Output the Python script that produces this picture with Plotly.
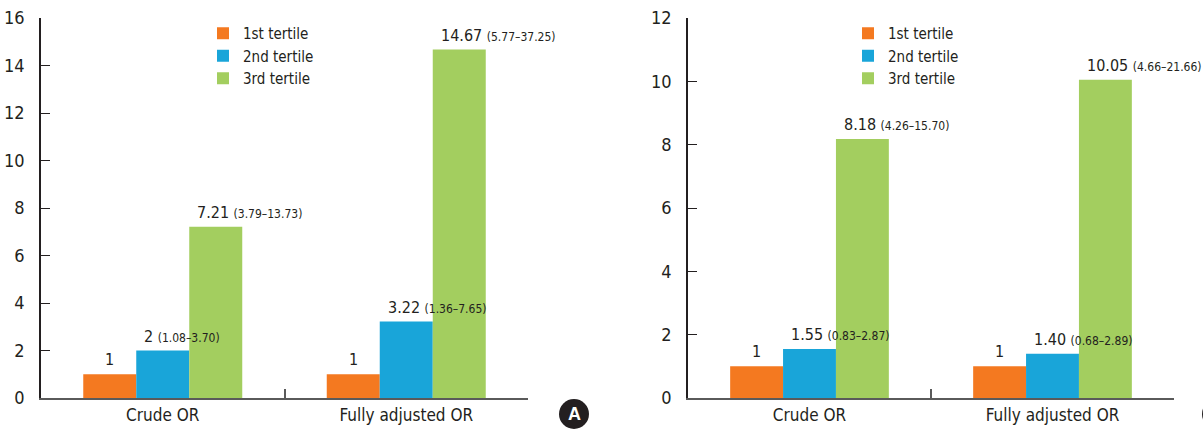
import plotly.graph_objects as go

categories = ["Crude OR", "Fully adjusted OR"]
tertiles = ["1st tertile", "2nd tertile", "3rd tertile"]

# Panel A
a_t1 = [1, 1]
a_t2 = [2, 3.22]
a_t3 = [7.21, 14.67]
a_t1_lbl = ["1", "1"]
a_t2_lbl = ["2", "3.22"]
a_t3_lbl = ["7.21", "14.67"]
a_t2_ci = ["1.08–3.70", "1.36–7.65"]
a_t3_ci = ["3.79–13.73", "5.77–37.25"]

# Panel B
b_t1 = [1, 1]
b_t2 = [1.55, 1.40]
b_t3 = [8.18, 10.05]
b_t1_lbl = ["1", "1"]
b_t2_lbl = ["1.55", "1.40"]
b_t3_lbl = ["8.18", "10.05"]
b_t2_ci = ["0.83–2.87", "0.68–2.89"]
b_t3_ci = ["4.26–15.70", "4.66–21.66"]

a_ticks = [0, 2, 4, 6, 8, 10, 12, 14, 16]
b_ticks = [0, 2, 4, 6, 8, 10, 12]

colors = ["#F47920", "#19A5D9", "#A3CE5F"]
FONT = "DejaVu Sans Condensed, Liberation Sans Narrow, Arial Narrow, sans-serif"
TXT = "#231f20"

W, H = 1203, 430
top_px, bot_px = 18, 398
domA = (41, 528)
domB = (688, 1174)
bargap = 0.347

fig = go.Figure()

panels = [
    ("x", "y", "legend", [a_t1, a_t2, a_t3], [a_t1_lbl, a_t2_lbl, a_t3_lbl], [None, a_t2_ci, a_t3_ci], domA),
    ("x2", "y2", "legend2", [b_t1, b_t2, b_t3], [b_t1_lbl, b_t2_lbl, b_t3_lbl], [None, b_t2_ci, b_t3_ci], domB),
]

annotations = []
for xa, ya, lg, series, labels, cis, dom in panels:
    cat_px = (dom[1] - dom[0]) / len(categories)
    bar_px = cat_px * (1 - bargap) / 3
    for i, (name, vals) in enumerate(zip(tertiles, series)):
        fig.add_trace(go.Bar(
            x=categories, y=vals, name=name, xaxis=xa, yaxis=ya,
            marker=dict(color=colors[i], line=dict(width=0)),
            legend=lg, hoverinfo="skip",
        ))
        for j, cat in enumerate(categories):
            lbl = labels[i][j]
            if cis[i] is None:
                text = lbl
                xanchor = "center"
                xshift = (i - 1) * bar_px
            else:
                text = f"{lbl} <span style='font-size:12px'>({cis[i][j]})</span>"
                xanchor = "left"
                xshift = (i - 1) * bar_px - bar_px / 2 + 6
            annotations.append(dict(
                x=cat, y=series[i][j], xref=xa, yref=ya, text=text,
                showarrow=False, xanchor=xanchor, yanchor="bottom",
                xshift=xshift, yshift=3,
                font=dict(family=FONT, size=16, color=TXT),
            ))

ph = bot_px - top_px

def py(p):
    return (bot_px - p) / ph

def pxf(p):
    return p / W

common = dict(showgrid=False, zeroline=False, showline=True, ticks="inside", ticklen=9,
              automargin=False)
xcommon = dict(common, tickson="boundaries", type="category", range=[-0.5, 1.5],
               linecolor="#5a5a5a", linewidth=2, tickcolor="#5a5a5a", tickwidth=1.5,
               ticklabelstandoff=1, tickfont=dict(family=FONT, size=17, color=TXT))
ycommon = dict(common, linecolor="#231f20", linewidth=1.5, tickcolor="#231f20", tickwidth=1,
               ticklabelstandoff=11, tickfont=dict(family=FONT, size=18, color=TXT))

legend_common = dict(xanchor="left", yanchor="top", bgcolor="rgba(0,0,0,0)",
                     font=dict(family=FONT, size=15, color=TXT), tracegroupgap=0,
                     itemclick=False)

fig.update_layout(
    width=W, height=H,
    autosize=False,
    margin=dict(l=0, r=0, t=top_px, b=H - bot_px, pad=0, autoexpand=False),
    paper_bgcolor="white", plot_bgcolor="white",
    barmode="group", bargap=bargap, bargroupgap=0,
    font=dict(family=FONT, color=TXT),
    xaxis=dict(domain=[pxf(domA[0]), pxf(domA[1])], anchor="y", **xcommon),
    yaxis=dict(domain=[0, 1], anchor="x", range=[0, 16], tickvals=a_ticks, **ycommon),
    xaxis2=dict(domain=[pxf(domB[0]), pxf(domB[1])], anchor="y2", **xcommon),
    yaxis2=dict(domain=[0, 1], anchor="x2", range=[0, 12], tickvals=b_ticks, **ycommon),
    legend=dict(x=pxf(203), y=py(17), **legend_common),
    legend2=dict(x=pxf(848), y=py(17), **legend_common),
    annotations=annotations,
    showlegend=True,
)

# panel markers
r = 15
for cx, cy, letter in [(574, 414, "A"), (1217, 414, None)]:
    fig.add_shape(type="circle", xref="paper", yref="paper",
                  x0=pxf(cx - r), x1=pxf(cx + r), y0=py(cy + r), y1=py(cy - r),
                  fillcolor="#231f20", line=dict(width=0))
    if letter:
        fig.add_annotation(x=pxf(cx), y=py(cy), xref="paper", yref="paper", text=f"<b>{letter}</b>",
                           showarrow=False, xanchor="center", yanchor="middle",
                           font=dict(family="Liberation Sans, Arial, sans-serif", size=18, color="white"))

fig.write_html("out.html", config={"responsive": False})
